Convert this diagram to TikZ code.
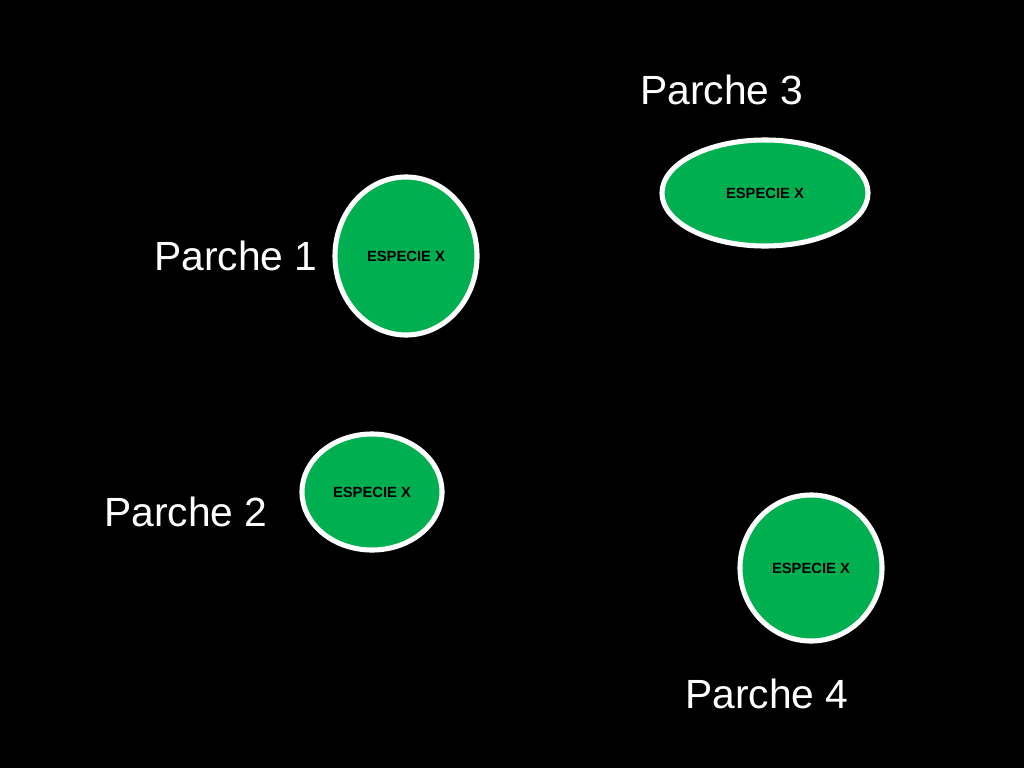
\documentclass[tikz,border=0pt]{standalone}
\usepackage{fontspec}
\setmainfont{Liberation Sans}
\usetikzlibrary{shapes.geometric}
\tikzset{
  patch/.style={ellipse, draw=white, line width=3.6pt, fill=green!60!black!80!cyan, fill={rgb,255:red,0;green,176;blue,80},
    inner sep=0pt, font=\bfseries\fontsize{10.5}{12}\selectfont, text=black},
  label/.style={text=white, font=\fontsize{29}{34}\selectfont}
}
\begin{document}
\begin{tikzpicture}[x=0.025cm,y=-0.025cm]
  \fill[black] (0,0) rectangle (1024,768);
  \node[patch, minimum width=142\pgflinewidth/3.6*0+3.55cm, minimum height=3.95cm] (p1) at (406,256) {ESPECIE X};
  \node[patch, minimum width=5.15cm, minimum height=2.65cm] (p3) at (765,193) {ESPECIE X};
  \node[patch, minimum width=3.5cm, minimum height=2.9cm] (p2) at (372,492) {ESPECIE X};
  \node[patch, minimum width=3.55cm, minimum height=3.65cm] (p4) at (811,568) {ESPECIE X};

  \node[label] (l1) at (236,256) {Parche 1};
  \node[label] (l2) at (186,512) {Parche 2};
  \node[label] (l3) at (722,90) {Parche 3};
  \node[label] (l4) at (767,694) {Parche 4};
\end{tikzpicture}
\end{document}
